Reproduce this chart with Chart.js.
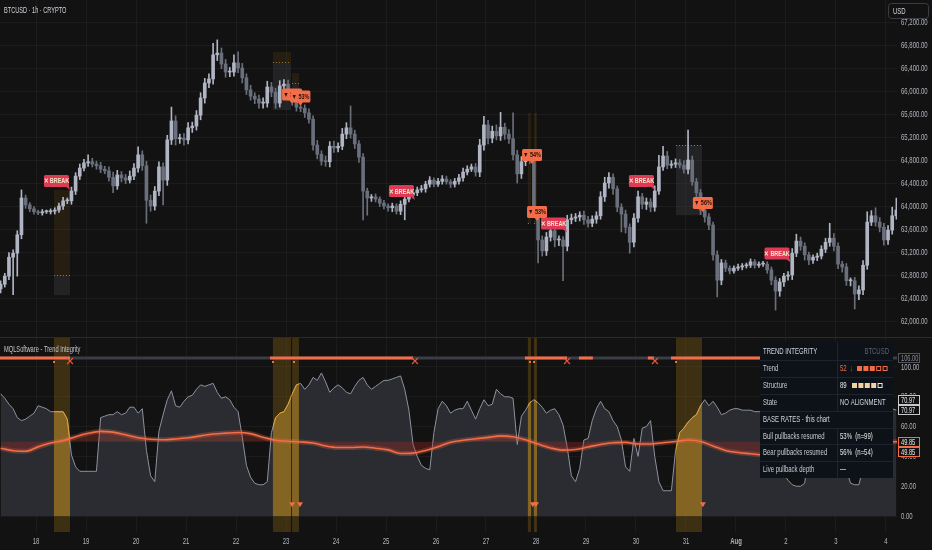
<!DOCTYPE html>
<html>
<head>
<meta charset="utf-8">
<title>BTCUSD 1h - Trend Integrity</title>
<script src="https://cdn.jsdelivr.net/npm/chart.js@4.4.1/dist/chart.umd.min.js"></script>
<style>
  html, body { margin: 0; padding: 0; background: #121212; overflow: hidden; }
  .pane { position: absolute; left: 0; width: 932px; }
  #pricePane { top: 0; height: 337px; }
  #trendPane { top: 337px; height: 213px; }
</style>
</head>
<body>
<div class="pane" id="pricePane"><canvas id="priceChart"></canvas></div>
<div class="pane" id="trendPane"><canvas id="trendChart"></canvas></div>
<script>
// Time is counted in hours from 17 Jul 00:00; one candle per 2 hours
const candleStartHour = 7;
const candleStepHours = 2;
const firstOpen = 62560;

const closes = [
  62640,62780,63110,63180,63500,64140,64020,63950,63900,63880,
  63900,63900,63910,63930,64000,64090,64090,64260,64520,64660,
  64750,64770,64730,64700,64640,64610,64500,64350,64540,64490,
  64450,64520,64660,64890,64700,64100,64000,64260,64680,64450,
  65150,65480,65170,65180,65150,65360,65390,65580,65880,66140,
  66210,66630,66660,66470,66330,66330,66490,66400,66230,66020,
  65910,65860,65790,65790,66070,65980,65790,66090,66120,65930,
  65830,65720,65700,65620,65510,65060,64900,64780,64770,65040,
  65010,65040,65250,65360,65250,65080,64850,64260,64140,64160,
  64120,64050,64000,63970,64000,63910,64030,64120,64190,64230,
  64280,64300,64380,64450,64380,64430,64470,64420,64380,64430,
  64490,64590,64640,64680,64590,65060,65410,65180,65300,65220,
  65370,65250,65170,64890,64560,64770,64830,64800,63930,63410,
  63220,63460,63570,63410,63410,63300,63760,63790,63810,63840,
  63760,63700,63770,63830,64160,64400,64500,64300,63980,63860,
  63630,63370,63790,64160,64030,64070,63980,64260,64680,64870,
  64710,64730,64750,64710,64640,64800,64420,64230,63930,63810,
  63670,63150,62710,63010,62920,62870,62920,62940,62960,62970,
  63030,62970,62990,62990,62890,62710,62520,62680,62780,62800,
  63180,63390,63300,63150,63060,63110,63130,63250,63370,63440,
  63300,62990,62940,62700,62700,62470,62540,62970,63720,63830,
  63720,63630,63410,63580,63830,63930
];

const wickUp = [
  60,50,80,60,70,140,50,40,40,30, 40,30,40,40,50,60,50,70,60,70,
  60,120,60,50,60,50,70,90,80,60, 60,90,80,140,70,80,90,80,90,70,
  80,240,90,70,80,90,70,80,90,80, 90,200,230,90,80,80,140,190,80,70,
  80,60,70,90,100,80,70,90,80,70, 60,70,80,60,70,60,80,60,90,80,
  90,60,100,90,380,70,60,60,50,40, 50,40,50,40,50,40,60,50,60,50,
  50,60,50,60,40,50,60,50,40,50, 60,70,60,50,60,100,150,80,90,110,
  260,70,80,450,80,90,70,60,50,60, 70,80,60,50,70,60,80,70,60,60,
  70,60,60,70,90,100,80,60,50,60, 70,60,80,100,60,70,60,90,200,170,
  80,60,70,60,80,520,70,60,60,50, 60,50,70,60,50,40,40,50,40,40,
  50,40,40,50,40,50,60,60,50,60, 80,120,70,60,50,40,50,60,70,260,
  80,60,50,60,50,60,70,80,180,90, 140,80,70,80,150,210
];

const wickDn = [
  70,50,60,650,400,70,60,50,40,30, 40,30,40,50,40,60,50,60,60,60,
  50,60,50,60,60,50,70,120,60,70, 60,50,60,70,80,400,90,70,80,430,
  90,80,110,80,90,70,80,70,80,90, 80,90,100,80,90,80,70,80,90,80,
  70,80,90,90,70,80,90,70,80,90, 80,70,60,80,70,90,80,70,80,90,
  80,70,60,80,70,80,90,500,300,60, 50,60,50,60,70,50,60,270,50,50,
  50,40,60,50,50,40,50,40,60,50, 50,60,50,40,70,80,90,100,80,70,
  80,90,80,90,160,80,70,60,50,400, 90,80,70,120,100,600,80,70,60,70,
  80,70,60,70,60,80,90,100,80,310, 100,190,80,70,80,90,80,70,60,60,
  60,50,60,50,70,80,60,70,80,90, 80,90,290,80,60,50,40,40,50,40,
  40,50,40,40,60,80,330,90,80,70, 80,60,70,90,80,60,60,50,60,70,
  80,80,90,80,90,260,100,80,70,60, 70,80,90,80,70,60
];

// Trend Integrity oscillator, same 2h grid as the candles
const trendValues = [
  82,79,75,72,66,64,65,67,69,74, 73,72,70,70,70,70,65,41,33,30,
  30,30,30,30,66,67,68,68,70,68, 69,73,73,69,72,44,27,23,57,68,
  78,84,74,73,77,80,81,85,88,87, 88,89,83,79,80,78,73,70,53,34,
  26,22,21,21,23,56,66,69,70,75, 82,88,89,85,88,93,91,96,90,83,
  86,88,86,83,82,87,91,93,88,85, 87,89,91,91,92,93,94,85,71,48,
  40,34,32,31,56,72,77,74,69,71, 72,72,77,71,65,72,78,74,75,85,
  82,80,80,79,48,67,71,76,78,76, 73,69,71,72,68,61,46,27,23,32,
  51,52,64,72,77,72,70,64,60,51, 33,30,52,40,59,60,64,40,23,17,
  17,17,44,56,59,63,66,68,74,78, 74,77,73,68,69,71,72,72,71,71,
  71,70,70,70,66,60,53,39,28,24, 21,20,20,22,45,56,62,66,68,70,
  66,62,50,31,22,21,21,32,44,52, 60,63,67,69,72,71
];

// smoothed average, one value per 6 hours
const maStartHour = 7;
const maStepHours = 6;
const maValues = [
  45.5,43.8,43.5,46.4,49.0,50.6,53.2,55.5,56.8,56.3,
  54.5,52.5,51.5,51.2,51.7,52.5,53.8,55.0,55.6,56.0,
  55.3,52.8,50.8,50.2,49.7,49.0,47.0,46.0,46.0,46.3,
  45.5,44.4,42.0,42.2,44.0,46.5,49.5,50.8,51.8,52.8,
  53.8,53.2,51.2,48.3,45.7,44.2,44.6,46.3,48.0,49.2,
  49.4,48.3,48.3,49.2,50.0,51.0,50.0,47.0,44.0,42.6,
  41.8,41.0,41.2,42.0,43.0,44.5,46.0,47.3,48.3,49.0,
  49.5,49.8,49.85
];
const maBaseLevel = 49.85;
const trendLast = 70.97;
const statusLevel = 106;

const dayTicks = [24,48,72,96,120,144,168,192,216,240,264,288,312,336,360,384,408,432];
const dayLabels = ['18','19','20','21','22','23','24','25','26','27','28','29','30','31','Aug','2','3','4'];
const priceTicks = [62000,62400,62800,63200,63600,64000,64400,64800,65200,65600,66000,66400,66800,67200];
const trendTicks = [0,20,40,60,80,100];

// pullback windows (hours)
const bandStart = [32.6, 137.7, 146.9, 260.1, 263.0, 331.2];
const bandEnd   = [40.3, 146.4, 150.2, 261.6, 264.5, 343.7];

// price-pane pullback zones
const zoneStart  = [32.6, 137.7, 146.9, 260.1, 263.0, 331.2];
const zoneEnd    = [40.3, 146.4, 150.2, 261.6, 264.5, 343.7];
const zoneTop    = [64280, 66680, 66310, 65620, 65620, 65060];
const zoneLine   = [62800, 66500, 66140, 63700, 63700, 65060];
const zoneBottom = [62450, 65670, 66020, 63700, 63700, 63840];

// signal tags in the price pane
const breakHours  = [33.8, 199.4, 272.4, 314.6, 379.7];
const breakPrices = [64435, 64260, 63696, 64435, 63174];
const pctHours  = [146.9, 150.9, 262.1, 264.5, 344.1];
const pctPrices = [65940, 65904, 64887, 63896, 64052];
const pctTexts  = ['▼ 53%', '▼ 53%', '▼ 54%', '▼ 53%', '▼ 56%'];

// status strip
const stripOnStart = [6.7, 136.3, 258.7, 284.6, 317.7, 328.8];
const stripOnEnd   = [40.3, 205.0, 278.9, 291.3, 320.6, 381.1];
const crossHours = [40.3, 205.9, 278.9, 321.1];
const dotHours = [32.6, 137.7, 147.8, 261.1, 263.0, 331.2];
const triHours = [146.9, 150.7, 262.5, 264.0, 344.1];

const xMin = 6.7, xMax = 437.3;

const FONT = '"Liberation Sans", Arial, sans-serif';
const TEXT_SIZE = 9.5;
const SQUEEZE = 0.63;
const ORANGE = '#f26d48';
const BREAK_RED = '#dc3a55';
const UP = '#b0b5c3';
const DOWN = '#6a6f7c';
const AXIS_TEXT = '#b2b5be';

Chart.defaults.font.family = FONT;
Chart.defaults.color = AXIS_TEXT;

const candleX = closes.map((_, i) => candleStartHour + i * candleStepHours);
const opens = closes.map((c, i) => i === 0 ? firstOpen : closes[i - 1]);
const candleColors = closes.map((c, i) => c >= opens[i] ? UP : DOWN);
const wickData = closes.map((c, i) => ({
  x: candleX[i],
  y: [Math.min(opens[i], c) - wickDn[i], Math.max(opens[i], c) + wickUp[i]]
}));
const bodyData = closes.map((c, i) => ({ x: candleX[i], y: [Math.min(opens[i], c), Math.max(opens[i], c)] }));
const trendData = trendValues.map((v, i) => ({ x: candleX[i], y: v }));
const maData = maValues.map((v, i) => ({ x: maStartHour + i * maStepHours, y: v }));

const px = (chart, h) => chart.scales.x.getPixelForValue(h);
const py = (chart, v) => chart.scales.y.getPixelForValue(v);

// condensed text, the terminal font is narrow
function text(ctx, s, x, y, color, align, weight, size, squeeze) {
  ctx.save();
  ctx.font = (weight || 'normal') + ' ' + (size || TEXT_SIZE) + 'px ' + FONT;
  ctx.fillStyle = color;
  ctx.textAlign = align || 'left';
  ctx.textBaseline = 'middle';
  ctx.translate(x, y);
  ctx.scale(squeeze || SQUEEZE, 1);
  ctx.fillText(s, 0, 0);
  ctx.restore();
}

function tag(ctx, cx, cy, w, h, fill, label, color, pointer) {
  ctx.fillStyle = fill;
  ctx.beginPath();
  ctx.roundRect(cx - w / 2, cy - h / 2, w, h, 1.5);
  ctx.fill();
  ctx.beginPath();
  if (pointer === 'right') {
    ctx.moveTo(cx + w / 2 - 4, cy + h / 2 - 1);
    ctx.lineTo(cx + w / 2, cy + h / 2 - 1);
    ctx.lineTo(cx + w / 2 + 1, cy + h / 2 + 3);
  } else {
    ctx.moveTo(cx - 3, cy + h / 2 - 1);
    ctx.lineTo(cx + 3, cy + h / 2 - 1);
    ctx.lineTo(cx, cy + h / 2 + 3);
  }
  ctx.fill();
  text(ctx, label, cx, cy + 0.5, color, 'center', 'bold', 7, 0.78);
}

const fmtPrice = v => String(v).replace(/\B(?=(\d{3})+(?!\d))/g, ',') + '.00';

const pricePanePlugin = {
  id: 'pricePane',
  beforeDatasetsDraw(chart) {
    const { ctx } = chart;
    ctx.save();
    zoneStart.forEach((h0, i) => {
      const x0 = px(chart, h0), x1 = px(chart, zoneEnd[i]);
      const yTop = py(chart, zoneTop[i]), yLine = py(chart, zoneLine[i]), yBot = py(chart, zoneBottom[i]);
      ctx.fillStyle = 'rgba(140,100,20,0.17)';
      ctx.fillRect(x0, yTop, x1 - x0, yLine - yTop);
      ctx.fillStyle = 'rgba(70,72,82,0.32)';
      ctx.fillRect(x0, yLine, x1 - x0, yBot - yLine);
      ctx.strokeStyle = '#a87820';
      ctx.lineWidth = 1;
      ctx.setLineDash([1, 2]);
      ctx.beginPath();
      ctx.moveTo(x0, Math.round(yLine) + 0.5);
      ctx.lineTo(x1, Math.round(yLine) + 0.5);
      ctx.stroke();
    });
    ctx.restore();
  },
  afterDatasetsDraw(chart) {
    const { ctx } = chart;
    ctx.save();
    breakHours.forEach((h, i) => {
      tag(ctx, px(chart, h), py(chart, breakPrices[i]), 25, 12, BREAK_RED, '✕ BREAK', '#f6e3c4', 'right');
    });
    pctHours.forEach((h, i) => {
      tag(ctx, px(chart, h), py(chart, pctPrices[i]), 20, 12, ORANGE, pctTexts[i], '#2a1208', 'center');
    });
    ctx.restore();
  },
  afterDraw(chart) {
    const { ctx } = chart;
    ctx.save();
    priceTicks.forEach(v => text(ctx, fmtPrice(v), 901, py(chart, v), AXIS_TEXT));
    text(ctx, 'BTCUSD · 1h · CRYPTO', 4, 10, '#d1d4dc', 'left', 'normal', TEXT_SIZE, 0.59);
    ctx.fillStyle = '#121212';
    ctx.strokeStyle = '#3a3d45';
    ctx.lineWidth = 1;
    ctx.beginPath();
    ctx.roundRect(888.5, 3.5, 40, 15, 3);
    ctx.fill();
    ctx.stroke();
    text(ctx, 'USD', 893, 11, '#d1d4dc');
    ctx.restore();
  }
};

new Chart(document.getElementById('priceChart'), {
  type: 'bar',
  data: {
    datasets: [
      { label: 'wick', data: wickData, backgroundColor: candleColors, barThickness: 1, grouped: false, order: 2 },
      { label: 'body', data: bodyData, backgroundColor: candleColors, barThickness: 3, minBarLength: 1, grouped: false, order: 1 }
    ]
  },
  options: {
    responsive: true,
    maintainAspectRatio: false,
    animation: false,
    layout: { padding: 0, autoPadding: false },
    plugins: { legend: { display: false }, tooltip: { enabled: false } },
    scales: {
      x: {
        type: 'linear', min: xMin, max: xMax, offset: false,
        afterBuildTicks: s => { s.ticks = dayTicks.map(v => ({ value: v })); },
        afterFit: s => { s.height = 0; },
        ticks: { display: false },
        grid: { color: 'rgba(255,255,255,0.045)', drawTicks: false, offset: false },
        border: { display: false }
      },
      y: {
        position: 'right', min: 61722, max: 67583,
        afterBuildTicks: s => { s.ticks = priceTicks.map(v => ({ value: v })); },
        afterFit: s => { s.width = 35; },
        ticks: { display: false },
        grid: { color: 'rgba(255,255,255,0.045)', drawTicks: false },
        border: { display: false }
      }
    }
  },
  plugins: [pricePanePlugin]
});

function valueBox(ctx, y, label, border, color) {
  ctx.fillStyle = '#121212';
  ctx.fillRect(898, y - 5, 22, 10);
  ctx.strokeStyle = border;
  ctx.lineWidth = 1;
  ctx.strokeRect(898.5, Math.round(y) - 4.5, 21, 9);
  text(ctx, label, 901, y + 0.5, color, 'left', 'normal', 9);
}

function drawTable(ctx) {
  const left = 760, right = 893, split = 837;
  const rows = [5, 23, 40, 57, 74, 91, 107, 124, 141];
  ctx.fillStyle = '#0d1118';
  ctx.fillRect(left, rows[0], right - left, rows[8] - rows[0]);
  ctx.strokeStyle = '#1e232e';
  ctx.lineWidth = 1;
  for (let r = 1; r < 8; r++) {
    ctx.beginPath();
    ctx.moveTo(left, rows[r] + 0.5);
    ctx.lineTo(right, rows[r] + 0.5);
    ctx.stroke();
  }
  for (let r = 0; r < 8; r++) {
    if (r === 4) continue;
    ctx.beginPath();
    ctx.moveTo(split + 0.5, rows[r]);
    ctx.lineTo(split + 0.5, rows[r + 1]);
    ctx.stroke();
  }
  const mid = r => (rows[r] + rows[r + 1]) / 2;
  const L = '#c9cbd1';
  text(ctx, 'TREND INTEGRITY', 763, mid(0), '#d1d4dc');
  text(ctx, 'BTCUSD', 889, mid(0), '#5d616b', 'right');
  text(ctx, 'Trend', 763, mid(1), L);
  text(ctx, '52', 840, mid(1), ORANGE);
  text(ctx, '↓', 850, mid(1), ORANGE, 'left', 'normal', 8.5);
  for (let k = 0; k < 5; k++) {
    const x = 857 + k * 6.4, y = mid(1) - 2.5;
    if (k < 3) { ctx.fillStyle = ORANGE; ctx.fillRect(x, y, 5, 5); }
    else { ctx.strokeStyle = ORANGE; ctx.strokeRect(x + 0.5, y + 0.5, 4, 4); }
  }
  text(ctx, 'Structure', 763, mid(2), L);
  text(ctx, '89', 840, mid(2), '#e6e6e6');
  for (let k = 0; k < 5; k++) {
    const x = 852 + k * 6.4, y = mid(2) - 2.5;
    if (k < 4) { ctx.fillStyle = '#efd3a2'; ctx.fillRect(x, y, 5, 5); }
    else { ctx.strokeStyle = '#e6e6e6'; ctx.strokeRect(x + 0.5, y + 0.5, 4, 4); }
  }
  text(ctx, 'State', 763, mid(3), L);
  text(ctx, 'NO ALIGNMENT', 840, mid(3), '#d1d4dc');
  text(ctx, 'BASE RATES - this chart', 763, mid(4), '#d1d4dc');
  text(ctx, 'Bull pullbacks resumed', 763, mid(5), L);
  text(ctx, '53%  (n=99)', 840, mid(5), '#e6e6e6');
  text(ctx, 'Bear pullbacks resumed', 763, mid(6), L);
  text(ctx, '56%  (n=54)', 840, mid(6), '#e6e6e6');
  text(ctx, 'Live pullback depth', 763, mid(7), L);
  text(ctx, '—', 840, mid(7), '#e6e6e6');
}

const GOLD_INDEX = 1;
const trendPanePlugin = {
  id: 'trendPane',
  beforeDatasetsDraw(chart) {
    const { ctx, chartArea: a } = chart;
    ctx.save();
    ctx.fillStyle = 'rgba(150,108,18,0.32)';
    bandStart.forEach((h0, i) => {
      const x0 = px(chart, h0), x1 = px(chart, bandEnd[i]);
      ctx.fillRect(x0, a.top, x1 - x0, a.bottom - a.top);
    });
    ctx.restore();
  },
  beforeDatasetDraw(chart, args) {
    if (args.index !== GOLD_INDEX) return;
    const { ctx, chartArea: a } = chart;
    ctx.save();
    ctx.beginPath();
    bandStart.forEach((h0, i) => {
      const x0 = px(chart, h0), x1 = px(chart, bandEnd[i]);
      ctx.rect(x0, a.top, x1 - x0, a.bottom - a.top);
    });
    ctx.clip();
    const pts = args.meta.data;
    const y0 = py(chart, 0);
    ctx.beginPath();
    ctx.moveTo(pts[0].x, y0);
    pts.forEach(p => ctx.lineTo(p.x, p.y));
    ctx.lineTo(pts[pts.length - 1].x, y0);
    ctx.closePath();
    ctx.fillStyle = 'rgba(205,148,22,0.55)';
    ctx.fill();
  },
  afterDatasetDraw(chart, args) {
    if (args.index === GOLD_INDEX) chart.ctx.restore();
  },
  afterDatasetsDraw(chart) {
    const { ctx, chartArea: a } = chart;
    ctx.save();
    // status strip
    const ys = Math.round(py(chart, statusLevel));
    ctx.fillStyle = '#3a3d45';
    ctx.fillRect(a.left, ys - 1.5, a.right - a.left, 3);
    ctx.fillStyle = ORANGE;
    stripOnStart.forEach((h0, i) => {
      const x0 = px(chart, h0), x1 = px(chart, stripOnEnd[i]);
      ctx.fillRect(x0, ys - 1.5, x1 - x0, 3);
    });
    dotHours.forEach(h => {
      ctx.fillRect(Math.round(px(chart, h)) - 1, ys + 3, 2, 2);
    });
    ctx.strokeStyle = '#e8553a';
    ctx.lineWidth = 1.1;
    crossHours.forEach(h => {
      const x = px(chart, h), y = ys + 3;
      ctx.beginPath();
      ctx.moveTo(x - 3, y - 3); ctx.lineTo(x + 3, y + 3);
      ctx.moveTo(x + 3, y - 3); ctx.lineTo(x - 3, y + 3);
      ctx.stroke();
    });
    // pullback triangles
    const yt = py(chart, 7.5);
    ctx.fillStyle = ORANGE;
    triHours.forEach(h => {
      const x = px(chart, h);
      ctx.beginPath();
      ctx.moveTo(x - 3, yt - 2.5);
      ctx.lineTo(x + 3, yt - 2.5);
      ctx.lineTo(x, yt + 2.5);
      ctx.closePath();
      ctx.fill();
    });
    ctx.restore();
  },
  afterDraw(chart) {
    const { ctx, chartArea: a } = chart;
    ctx.save();
    ctx.fillStyle = '#2a2b30';
    ctx.fillRect(0, 0, 932, 1);
    trendTicks.forEach(v => text(ctx, v.toFixed(2), 901, py(chart, v), AXIS_TEXT));
    dayTicks.forEach((h, i) => {
      text(ctx, dayLabels[i], px(chart, h), a.bottom + 9, AXIS_TEXT, 'center',
        dayLabels[i] === 'Aug' ? 'bold' : 'normal');
    });
    text(ctx, 'MQLSoftware - Trend Integrity', 4, 12, '#c4c6cc', 'left', 'normal', TEXT_SIZE, 0.6);
    drawTable(ctx);
    valueBox(ctx, py(chart, statusLevel), statusLevel.toFixed(2), '#50535c', '#8a8d96');
    const yT = py(chart, trendLast);
    valueBox(ctx, yT - 10.5, trendLast.toFixed(2), '#c8c9cc', '#e0e1e4');
    valueBox(ctx, yT, trendLast.toFixed(2), '#c8c9cc', '#e0e1e4');
    const yM = py(chart, maBaseLevel);
    valueBox(ctx, yM, maBaseLevel.toFixed(2), ORANGE, '#e8e8e8');
    valueBox(ctx, yM + 10.5, maBaseLevel.toFixed(2), ORANGE, '#e8e8e8');
    ctx.restore();
  }
};

new Chart(document.getElementById('trendChart'), {
  type: 'line',
  data: {
    datasets: [
      { label: 'Trend', data: trendData, borderColor: '#8e929e', borderWidth: 1, pointRadius: 0,
        fill: 'origin', backgroundColor: '#2a2c31', order: 4 },
      { label: 'Pullback', data: trendData, borderColor: '#e0a030', borderWidth: 1, pointRadius: 0,
        fill: false, order: 3 },
      { label: 'Average glow', data: maData, borderColor: 'rgba(242,109,72,0.28)', borderWidth: 5,
        pointRadius: 0, fill: false, cubicInterpolationMode: 'monotone', order: 2 },
      { label: 'Average', data: maData, borderColor: ORANGE, borderWidth: 1.6, pointRadius: 0,
        cubicInterpolationMode: 'monotone', order: 1,
        fill: { target: { value: maBaseLevel }, above: 'rgba(225,80,55,0.24)', below: 'rgba(170,45,35,0.32)' } }
    ]
  },
  options: {
    responsive: true,
    maintainAspectRatio: false,
    animation: false,
    layout: { padding: 0, autoPadding: false },
    plugins: { legend: { display: false }, tooltip: { enabled: false } },
    scales: {
      x: {
        type: 'linear', min: xMin, max: xMax,
        afterBuildTicks: s => { s.ticks = dayTicks.map(v => ({ value: v })); },
        afterFit: s => { s.height = 18; },
        ticks: { display: false },
        grid: { color: 'rgba(255,255,255,0.045)', drawTicks: false },
        border: { display: false }
      },
      y: {
        position: 'right', min: -10.7, max: 120.1,
        afterBuildTicks: s => { s.ticks = trendTicks.map(v => ({ value: v })); },
        afterFit: s => { s.width = 35; },
        ticks: { display: false },
        grid: { color: 'rgba(255,255,255,0.045)', drawTicks: false },
        border: { display: false }
      }
    }
  },
  plugins: [trendPanePlugin]
});
</script>
</body>
</html>
